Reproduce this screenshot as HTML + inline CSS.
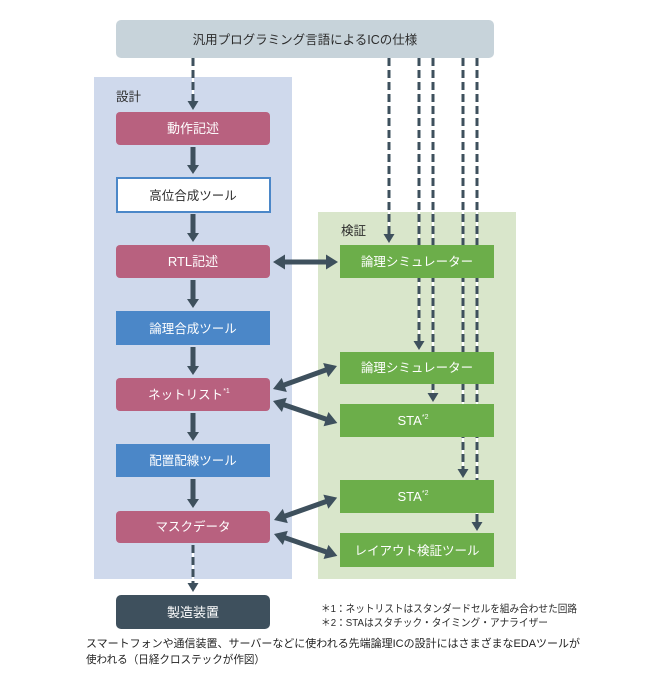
<!DOCTYPE html>
<html><head><meta charset="utf-8">
<style>
html,body{margin:0;padding:0;background:#fff;}
svg{display:block;}
text{font-family:"Liberation Sans","Noto Sans CJK JP",sans-serif;}
</style></head>
<body>
<svg width="658" height="678" viewBox="0 0 658 678" xmlns="http://www.w3.org/2000/svg">
<rect x="0" y="0" width="658" height="678" fill="#ffffff"/>
<!-- panels -->
<rect x="94" y="77" width="198" height="502" fill="#cfd9ec"/>
<rect x="318" y="212" width="198" height="367" fill="#d9e6cb"/>
<text x="116" y="101" font-size="12.5" fill="#2b2b2b">設計</text>
<text x="341" y="235" font-size="12.5" fill="#2b2b2b">検証</text>

<!-- top box -->
<rect x="116" y="20" width="378" height="38" rx="5" fill="#c7d3da"/>
<text x="305" y="44" font-size="12.5" fill="#2b2b2b" text-anchor="middle">汎用プログラミング言語によるICの仕様</text>

<!-- dashed lines -->
<g fill="none">
  <g stroke="#ffffff" stroke-width="2">
    <line x1="193" y1="58" x2="193" y2="102"/>
    <line x1="389" y1="58" x2="389" y2="236"/>
    <line x1="419" y1="58" x2="419" y2="342"/>
    <line x1="433" y1="58" x2="433" y2="395"/>
    <line x1="463" y1="58" x2="463" y2="470"/>
    <line x1="477" y1="58" x2="477" y2="523"/>
    <line x1="193" y1="545" x2="193" y2="584"/>
  </g>
  <g stroke="#3e505d" stroke-width="3" stroke-dasharray="8 4">
    <line x1="193" y1="58" x2="193" y2="102"/>
    <line x1="389" y1="58" x2="389" y2="236"/>
    <line x1="419" y1="58" x2="419" y2="342"/>
    <line x1="433" y1="58" x2="433" y2="395"/>
    <line x1="463" y1="58" x2="463" y2="470"/>
    <line x1="477" y1="58" x2="477" y2="523"/>
    <line x1="193" y1="545" x2="193" y2="584"/>
  </g>
</g>
<g fill="#3e505d">
  <polygon points="187.5,101 198.5,101 193,110"/>
  <polygon points="383.5,234 394.5,234 389,243"/>
  <polygon points="413.5,341 424.5,341 419,350"/>
  <polygon points="427.5,393 438.5,393 433,402"/>
  <polygon points="457.5,469 468.5,469 463,478"/>
  <polygon points="471.5,522 482.5,522 477,531"/>
  <polygon points="187.5,583 198.5,583 193,592"/>
</g>

<!-- design boxes -->
<rect x="116" y="112" width="154" height="33" rx="4" fill="#b8617f"/>
<text x="193" y="133" font-size="13" fill="#ffffff" text-anchor="middle">動作記述</text>

<rect x="117" y="178" width="153" height="34" fill="#ffffff" stroke="#4b87c8" stroke-width="2"/>
<text x="193" y="200" font-size="12.5" fill="#2b2b2b" text-anchor="middle">高位合成ツール</text>

<rect x="116" y="245" width="154" height="33" rx="4" fill="#b8617f"/>
<text x="193" y="266" font-size="13" fill="#ffffff" text-anchor="middle">RTL記述</text>

<rect x="116" y="311" width="154" height="34" fill="#4b87c8"/>
<text x="193" y="333" font-size="12.5" fill="#ffffff" text-anchor="middle">論理合成ツール</text>

<rect x="116" y="378" width="154" height="33" rx="4" fill="#b8617f"/>
<text x="189" y="399" font-size="12.5" fill="#ffffff" text-anchor="middle">ネットリスト<tspan font-size="7" dy="-6">*1</tspan></text>

<rect x="116" y="444" width="154" height="33" fill="#4b87c8"/>
<text x="193" y="465" font-size="12.5" fill="#ffffff" text-anchor="middle">配置配線ツール</text>

<rect x="116" y="511" width="154" height="32" rx="4" fill="#b8617f"/>
<text x="193" y="531" font-size="12.5" fill="#ffffff" text-anchor="middle">マスクデータ</text>

<rect x="116" y="595" width="154" height="34" rx="5" fill="#3e505d"/>
<text x="193" y="617" font-size="13" fill="#ffffff" text-anchor="middle">製造装置</text>

<!-- verify boxes -->
<rect x="340" y="245" width="154" height="33" fill="#6cae4a"/>
<text x="417" y="266" font-size="12.5" fill="#ffffff" text-anchor="middle">論理シミュレーター</text>

<rect x="340" y="352" width="154" height="32" fill="#6cae4a"/>
<text x="417" y="372" font-size="12.5" fill="#ffffff" text-anchor="middle">論理シミュレーター</text>

<rect x="340" y="404" width="154" height="33" fill="#6cae4a"/>
<text x="413" y="425" font-size="13" fill="#ffffff" text-anchor="middle">STA<tspan font-size="7" dy="-6">*2</tspan></text>

<rect x="340" y="480" width="154" height="33" fill="#6cae4a"/>
<text x="413" y="501" font-size="13" fill="#ffffff" text-anchor="middle">STA<tspan font-size="7" dy="-6">*2</tspan></text>

<rect x="340" y="533" width="154" height="34" fill="#6cae4a"/>
<text x="417" y="555" font-size="12.5" fill="#ffffff" text-anchor="middle">レイアウト検証ツール</text>

<!-- solid down arrows -->
<g fill="#3e505d">
  <polygon points="190.5,147 195.5,147 195.5,165 199,165 193,174 187,165 190.5,165"/>
  <polygon points="190.5,214 195.5,214 195.5,233 199,233 193,242 187,233 190.5,233"/>
  <polygon points="190.5,280 195.5,280 195.5,299 199,299 193,308 187,299 190.5,299"/>
  <polygon points="190.5,347 195.5,347 195.5,366 199,366 193,375 187,366 190.5,366"/>
  <polygon points="190.5,413 195.5,413 195.5,432 199,432 193,441 187,432 190.5,432"/>
  <polygon points="190.5,479 195.5,479 195.5,499 199,499 193,508 187,499 190.5,499"/>
</g>

<!-- double arrows -->
<g fill="#3e505d">
  <polygon points="273,262 285,254.5 285,259.5 326,259.5 326,254.5 338,262 326,269.5 326,264.5 285,264.5 285,269.5"/>
  <g transform="translate(273,389) rotate(-19.8)">
    <polygon points="0,0 12,-7.5 12,-2.5 56,-2.5 56,-7.5 68,0 56,7.5 56,2.5 12,2.5 12,7.5"/>
  </g>
  <g transform="translate(273,401) rotate(18.9)">
    <polygon points="0,0 12,-7.5 12,-2.5 56,-2.5 56,-7.5 68,0 56,7.5 56,2.5 12,2.5 12,7.5"/>
  </g>
  <g transform="translate(274,520) rotate(-19.5)">
    <polygon points="0,0 12,-7.5 12,-2.5 55,-2.5 55,-7.5 67,0 55,7.5 55,2.5 12,2.5 12,7.5"/>
  </g>
  <g transform="translate(274,534) rotate(19)">
    <polygon points="0,0 12,-7.5 12,-2.5 55,-2.5 55,-7.5 67,0 55,7.5 55,2.5 12,2.5 12,7.5"/>
  </g>
</g>

<!-- footnotes -->
<text x="321" y="612" font-size="10.5" fill="#2b2b2b" textLength="256" lengthAdjust="spacingAndGlyphs">＊1：ネットリストはスタンダードセルを組み合わせた回路</text>
<text x="321" y="626" font-size="10.5" fill="#2b2b2b" textLength="227" lengthAdjust="spacingAndGlyphs">＊2：STAはスタチック・タイミング・アナライザー</text>

<!-- caption -->
<text x="86" y="647" font-size="11" fill="#222222" textLength="494" lengthAdjust="spacingAndGlyphs">スマートフォンや通信装置、サーバーなどに使われる先端論理ICの設計にはさまざまなEDAツールが</text>
<text x="86" y="663" font-size="11" fill="#222222" textLength="179" lengthAdjust="spacingAndGlyphs">使われる（日経クロステックが作図）</text>
</svg>
</body></html>
